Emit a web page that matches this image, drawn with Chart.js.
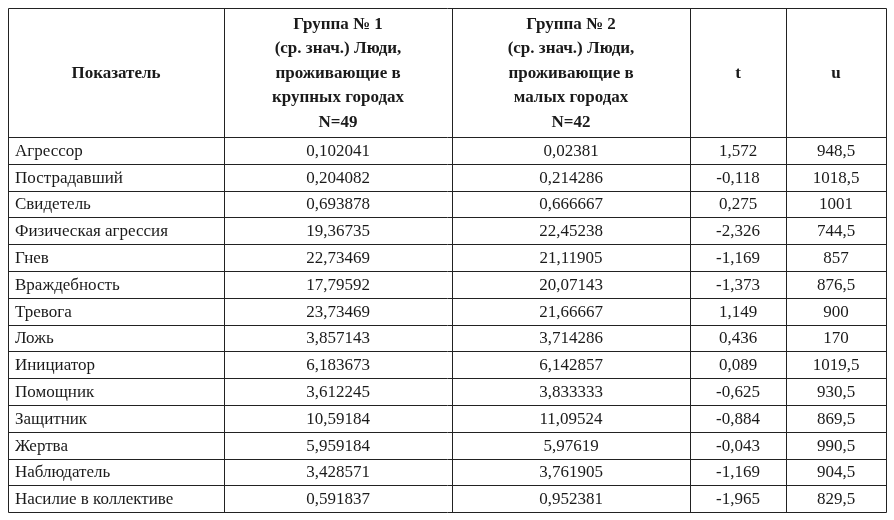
<!DOCTYPE html>
<html><head><meta charset="utf-8">
<script src="https://cdn.jsdelivr.net/npm/chart.js@4/dist/chart.umd.min.js"></script>
<style>html,body{margin:0;background:#fff}#wrap{width:894px;height:520px}</style>
</head><body><div id="wrap"><canvas id="tbl"></canvas></div>
<script>
// Таблица: показатели групп
const headers = [
  ['Показатель'],
  ['Группа № 1', '(ср. знач.) Люди,', 'проживающие в', 'крупных городах', 'N=49'],
  ['Группа № 2', '(ср. знач.) Люди,', 'проживающие в', 'малых городах', 'N=42'],
  ['t'],
  ['u']
];
const indicators = ['Агрессор','Пострадавший','Свидетель','Физическая агрессия','Гнев','Враждебность','Тревога','Ложь','Инициатор','Помощник','Защитник','Жертва','Наблюдатель','Насилие в коллективе'];
const group1 = ['0,102041','0,204082','0,693878','19,36735','22,73469','17,79592','23,73469','3,857143','6,183673','3,612245','10,59184','5,959184','3,428571','0,591837'];
const group2 = ['0,02381','0,214286','0,666667','22,45238','21,11905','20,07143','21,66667','3,714286','6,142857','3,833333','11,09524','5,97619','3,761905','0,952381'];
const tValues = ['1,572','-0,118','0,275','-2,326','-1,169','-1,373','1,149','0,436','0,089','-0,625','-0,884','-0,043','-1,169','-1,965'];
const uValues = ['948,5','1018,5','1001','744,5','857','876,5','900','170','1019,5','930,5','869,5','990,5','904,5','829,5'];

const colEdges = [8, 224, 452, 690, 786, 886];
const headTop = 8, headBottom = 137, rowH = 26.8;
const FONT = '"Liberation Serif", "DejaVu Serif", serif';

const tablePlugin = {
  id: 'table',
  afterDraw(chart) {
    const { ctx, scales: { x, y } } = chart;
    const X = (v) => Math.round(x.getPixelForValue(v)) + 0.5;
    const Y = (v) => Math.round(y.getPixelForValue(v)) + 0.5;
    const nRows = indicators.length;
    const bottom = headBottom + rowH * nRows;
    ctx.save();
    ctx.strokeStyle = '#222'; ctx.lineWidth = 1;
    ctx.beginPath();
    colEdges.forEach(c => { ctx.moveTo(X(c), Y(headTop)); ctx.lineTo(X(c), Y(bottom)); });
    ctx.moveTo(X(colEdges[0]), Y(headTop)); ctx.lineTo(X(colEdges[5]), Y(headTop));
    for (let i = 0; i <= nRows; i++) {
      const yy = Y(headBottom + rowH * i);
      ctx.moveTo(X(colEdges[0]), yy); ctx.lineTo(X(colEdges[5]), yy);
    }
    ctx.stroke();

    ctx.fillStyle = '#1a1a1a';
    ctx.textBaseline = 'middle';
    // header
    ctx.font = 'bold 17px ' + FONT; ctx.textAlign = 'center';
    const midH = (headTop + headBottom) / 2;
    headers.forEach((lines, c) => {
      const cx = x.getPixelForValue((colEdges[c] + colEdges[c + 1]) / 2);
      const lh = 24.5, start = midH - (lines.length - 1) * lh / 2 + 1;
      lines.forEach((t, k) => ctx.fillText(t, cx, y.getPixelForValue(start + k * lh)));
    });
    // body
    ctx.font = '17px ' + FONT;
    const cols = [indicators, group1, group2, tValues, uValues];
    for (let i = 0; i < nRows; i++) {
      const cy = y.getPixelForValue(headBottom + rowH * (i + 0.5) + 1);
      cols.forEach((arr, c) => {
        if (c === 0) { ctx.textAlign = 'left'; ctx.fillText(arr[i], x.getPixelForValue(colEdges[0] + 7), cy); }
        else { ctx.textAlign = 'center'; ctx.fillText(arr[i], x.getPixelForValue((colEdges[c] + colEdges[c + 1]) / 2), cy); }
      });
    }
    ctx.restore();
  }
};

new Chart(document.getElementById('tbl'), {
  type: 'scatter',
  data: { datasets: [{ data: [] }] },
  options: {
    responsive: true, maintainAspectRatio: false, animation: false,
    layout: { padding: 0 },
    plugins: { legend: { display: false }, tooltip: { enabled: false } },
    scales: {
      x: { type: 'linear', min: 0, max: 894, display: false },
      y: { type: 'linear', min: 0, max: 520, reverse: true, display: false }
    }
  },
  plugins: [tablePlugin]
});
</script>
</body></html>
